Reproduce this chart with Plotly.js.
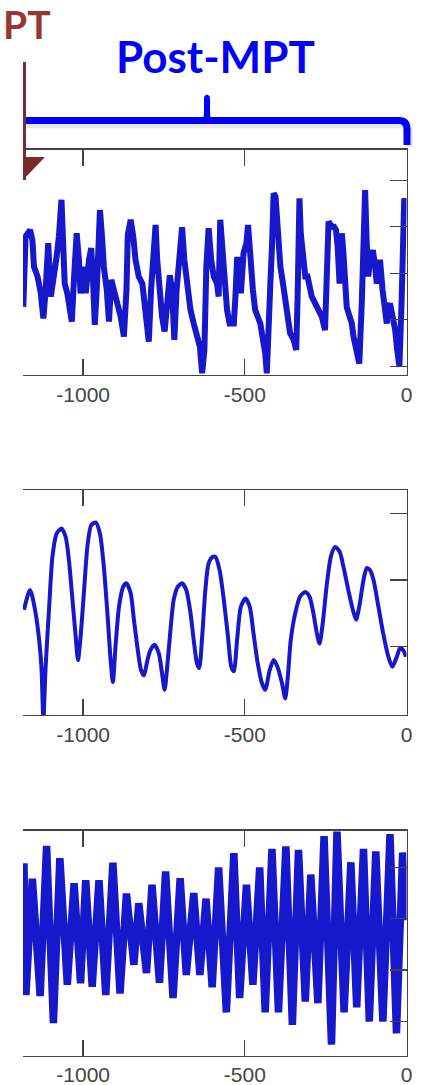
<!DOCTYPE html>
<html><head><meta charset="utf-8">
<script src="https://cdn.plot.ly/plotly-3.0.1.min.js"></script>
<style>html,body{margin:0;padding:0;background:#fff;}#chart{width:423px;height:1085px;}</style>
</head><body><div id="chart"></div>
<script>
// ---- data ----
const tickX = [-1000, -500, 0];
const tickLabels = ['-1000', '-500', '0'];

const p1x = [-1185,-1178,-1164,-1157,-1152,-1141,-1131,-1123,-1116,-1108,-1100,-1090,-1082,-1075,-1067,-1061,-1057,-1049,-1041,-1035,
 -1028,-1020,-1013,-1008,-997,-992,-982,-975,-969,-964,-958,-954,-948,-941,-936,-927,-920,-913,-905,-894,
 -884,-874,-866,-862,-853,-845,-838,-828,-817,-810,-804,-797,-790,-783,-776,-771,-763,-756,-748,-740,
 -732,-725,-718,-711,-704,-694,-687,-678,-668,-658,-648,-639,-632,-625,-619,-612,-604,-596,-586,
 -581,-576,-567,-560,-555,-547,-534,-529,-524,-516,-512,-504,-495,-490,-483,-475,-468,-460,-452,-444,
 -437,-432,-426,-421,-416,-411,-405,-401,-396,-390,-382,-375,-368,-360,-349,-341,-337,-334,-331,-327,
 -320,-313,-306,-300,-293,-282,-272,-262,-252,-246,-241,-231,-224,-218,-213,-207,-200,-195,-190,-185,
 -176,-169,-164,-156,-146,-138,-133,-128,-123,-118,-113,-104,-97,-92,-87,-82,-74,-66,-61,-56,
 -51,-43,-35,-30,-22,-15,-10,-7,-3];
const p1y = [-0.72,0.79,0.93,0.72,0.14,-0.07,-0.43,-0.97,-0.36,0.65,-0.50,-0.07,0.36,0.79,1.58,0.50,-0.22,-0.43,-0.72,-1.04,
 -0.07,0.86,0.29,-0.43,0.14,-0.43,0.29,0.54,-0.22,-1.11,-0.36,0.86,1.36,0.72,0.14,-0.36,-1.04,-0.14,-0.36,-0.65,
 -0.93,-1.36,-0.36,0.82,1.15,0.79,0.29,-0.07,-0.22,-0.65,-1.15,-1.47,-0.36,0.50,1.04,0.29,-0.43,-0.93,-1.25,-0.43,
 -0.04,-0.36,-1.43,-0.36,0.36,0.99,0.29,-0.36,-0.79,-1.08,-1.43,-1.58,-2.15,-1.65,0.14,0.97,0.29,-0.07,-0.22,
 -0.50,1.15,0.14,-0.36,-0.79,-1.08,-1.08,-0.50,0.29,0.29,-0.43,0.43,0.65,1.04,0.14,-0.36,-0.79,-0.93,-1.08,-1.43,
 -1.72,-2.15,-1.36,-0.22,0.57,1.72,1.65,1.15,0.57,0.14,-0.22,-0.57,-0.93,-1.29,-1.43,-1.65,-0.57,0.50,1.61,0.86,
 0.29,-0.07,-0.07,-0.36,-0.50,-0.65,-0.79,-0.93,-1.22,0.14,1.11,1.00,1.00,0.93,0.57,-0.22,0.86,0.43,-0.22,-0.72,
 -0.93,-1.08,-1.36,-1.65,-1.94,-0.57,0.65,1.79,0.65,-0.07,0.29,0.50,0.14,-0.22,-0.07,0.29,-0.36,-0.79,-1.08,-0.72,
 -0.65,-0.93,-1.22,-1.58,-2.01,-0.57,0.86,1.61,1.50];

const p2x = [-1183,-1164,-1147,-1136,-1129,-1123,-1116,-1105,-1095,-1082,-1067,-1054,-1044,-1033,-1023,-1016,-1008,-997,-987,-975,
 -961,-948,-936,-925,-915,-908,-900,-889,-876,-866,-853,-843,-831,-821,-812,-802,-792,-779,-766,-756,
 -748,-740,-730,-720,-707,-694,-681,-668,-658,-648,-641,-632,-622,-612,-599,-591,-578,-565,-552,-542,
 -534,-524,-512,-498,-485,-473,-460,-447,-437,-423,-411,-399,-385,-375,-367,-358,-344,-329,-313,-300,
 -288,-277,-269,-259,-246,-234,-221,-207,-195,-180,-166,-156,-146,-133,-123,-113,-102,-87,-72,-56,
 -44,-30,-20,-10,-2];
const p2y = [-0.45,-0.15,-0.50,-0.91,-1.31,-2.10,-1.31,-0.40,0.35,0.70,0.78,0.65,0.30,-0.30,-0.86,-1.21,-0.86,-0.15,0.50,0.83,
 0.87,0.70,0.20,-0.50,-1.21,-1.54,-1.01,-0.40,-0.10,-0.05,-0.20,-0.60,-1.06,-1.36,-1.44,-1.23,-1.06,-0.98,-1.11,-1.41,
 -1.66,-1.31,-0.76,-0.30,-0.10,-0.05,-0.15,-0.50,-0.91,-1.26,-1.33,-0.86,-0.15,0.25,0.35,0.35,0.15,-0.30,-0.86,-1.31,
 -1.38,-0.91,-0.40,-0.28,-0.40,-0.81,-1.26,-1.56,-1.66,-1.36,-1.21,-1.31,-1.56,-1.79,-1.46,-0.91,-0.50,-0.25,-0.18,-0.25,
 -0.50,-0.81,-0.96,-0.65,-0.05,0.35,0.50,0.43,0.20,-0.15,-0.45,-0.60,-0.40,0.00,0.18,0.15,0.00,-0.40,-0.81,-1.16,
 -1.31,-1.16,-1.03,-1.06,-1.16];

const p3x = [-1183,-1177,-1157,-1133,-1113,-1092,-1072,-1049,-1028,-1008,-992,-972,-951,-930,-908,-886,-866,-843,-828,-804,
 -787,-764,-745,-722,-700,-681,-658,-639,-620,-601,-581,-557,-534,-516,-495,-475,-454,-437,-416,-396,
 -373,-353,-334,-313,-296,-274,-255,-232,-215,-193,-172,-154,-133,-115,-95,-73,-51,-31,-12,-2];
const p3y = [2.08,-0.49,1.78,-0.51,2.42,-1.04,2.18,-0.29,1.69,-0.26,1.75,-0.33,1.75,-0.49,2.09,-0.46,1.49,0.10,1.30,-0.06,
 1.66,-0.25,1.92,-0.55,1.79,-0.10,1.50,-0.10,1.39,-0.34,2.00,-0.83,2.28,-0.55,1.66,-0.29,2.00,-0.83,2.36,-0.83,
 2.41,-1.07,2.34,-0.62,1.86,-0.65,2.61,-1.46,2.70,-0.83,2.10,-0.73,2.36,-1.01,2.31,-1.01,2.65,-1.24,2.29,0.97];

const yTicks1 = [-2,-1,0,1,2];
const yTicks2 = [-1,0,1];
const yTicks3 = [-1,0,1,2];

// ---- layout helpers ----
const W = 423, H = 1085;
const P = (x, y) => (x / W).toFixed(5) + ',' + (1 - y / H).toFixed(5);
const lineColor = '#1717cc';
const xDom = [23 / W, 406.5 / W];
const ax = {showgrid:false, zeroline:false, showline:true, linecolor:'#444', linewidth:1.3,
            ticks:'inside', tickcolor:'#444', tickwidth:1.3, fixedrange:true};
function xa(anchor) {
  return Object.assign({}, ax, {domain:xDom, range:[-1186, 0], tickvals:tickX, ticktext:tickLabels,
    ticklen:16, mirror:'ticks', anchor:anchor,
    tickfont:{family:'Liberation Sans, Arial, sans-serif', size:21, color:'#444'}});
}
function ya(anchor, top, bot, range, tv) {
  return Object.assign({}, ax, {domain:[1 - bot / H, 1 - top / H], range:range, tickvals:tv,
    ticklen:17, side:'right', showticklabels:false, anchor:anchor});
}

const traces = [
  {x:p1x, y:p1y, xaxis:'x', yaxis:'y', type:'scatter', mode:'lines', line:{color:lineColor, width:6}},
  {x:p2x, y:p2y, xaxis:'x2', yaxis:'y2', type:'scatter', mode:'lines', line:{color:lineColor, width:4, shape:'spline', smoothing:0.7}},
  {x:p3x, y:p3y, xaxis:'x3', yaxis:'y3', type:'scatter', mode:'lines', line:{color:lineColor, width:7.5}}
];

const shapes = [
  // bracket shadow
  {type:'path', xref:'paper', yref:'paper', layer:'above',
   path:'M' + P(25,125.5) + ' L' + P(401,125.5) + ' Q' + P(410,125.5) + ' ' + P(410,133) + ' L' + P(410,147),
   line:{color:'rgba(0,0,0,0.09)', width:6}},
  // blue bracket
  {type:'path', xref:'paper', yref:'paper', layer:'above',
   path:'M' + P(23,120.5) + ' L' + P(399,120.5) + ' Q' + P(407,120.5) + ' ' + P(407,129) + ' L' + P(407,145),
   line:{color:'#0000ff', width:7}},
  {type:'path', xref:'paper', yref:'paper', layer:'above',
   path:'M' + P(200,122) + ' Q' + P(204,120) + ' ' + P(204,112) + ' L' + P(204,97) + ' Q' + P(207,92) + ' ' + P(210,97) +
        ' L' + P(210,112) + ' Q' + P(210,120) + ' ' + P(214,122) + ' Z',
   fillcolor:'#0000ff', line:{width:0}},
  // red bracket end
  {type:'path', xref:'paper', yref:'paper', layer:'above',
   path:'M' + P(24.5,62) + ' L' + P(24.5,180), line:{color:'#7b2c2c', width:3}},
  {type:'path', xref:'paper', yref:'paper', layer:'above',
   path:'M' + P(23,157) + ' L' + P(45,157) + ' L' + P(23,180) + ' Z', fillcolor:'#7f2a2a', line:{width:0}}
];

const annotations = [
  {xref:'paper', yref:'paper', x:53 / W, y:1 - 24 / H, xanchor:'right', yanchor:'middle', showarrow:false,
   text:'PT', font:{family:'Lato, sans-serif', size:39, weight:700, color:'#953735'}},
  {xref:'paper', yref:'paper', x:215.5 / W, y:1 - 56 / H, xanchor:'center', yanchor:'middle', showarrow:false,
   text:'Post-MPT', font:{family:'Lato, sans-serif', size:44, weight:700, color:'#0000ff'}}
];

const layout = {
  width:W, height:H, margin:{l:0, r:0, t:0, b:0}, paper_bgcolor:'#fff', plot_bgcolor:'#fff', showlegend:false,
  xaxis:xa('y'), yaxis:ya('x', 149.5, 375, [-2.187, 2.662], yTicks1),
  xaxis2:xa('y2'), yaxis2:ya('x2', 490, 715, [-2.04, 1.36], yTicks2),
  xaxis3:xa('y3'), yaxis3:ya('x3', 830.5, 1055.5, [-1.67, 2.72], yTicks3),
  shapes:shapes, annotations:annotations
};

Plotly.newPlot('chart', traces, layout, {displayModeBar:false, staticPlot:true});
</script>
</body></html>
